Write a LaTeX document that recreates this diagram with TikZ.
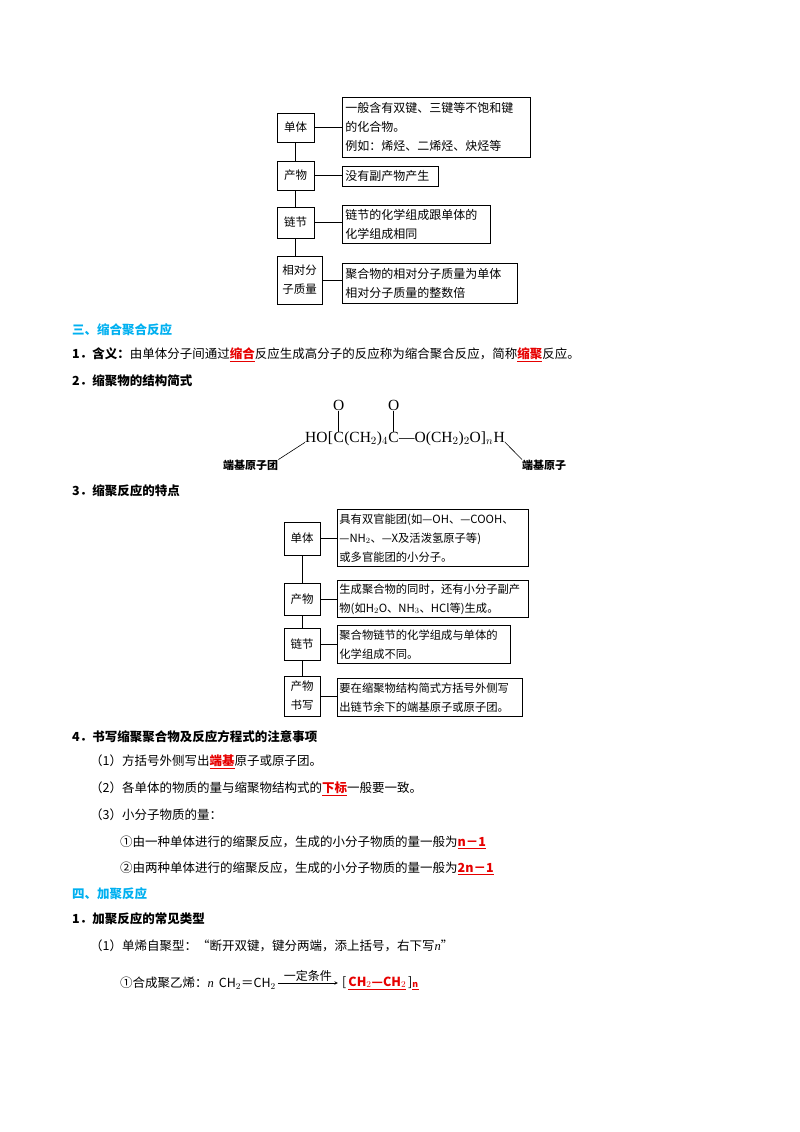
\documentclass[tikz,border=0pt]{standalone}
\usepackage{fontspec}
\setmainfont{Noto Sans CJK SC}
\newfontfamily\serifx{Liberation Serif}
\usetikzlibrary{positioning}
\definecolor{headc}{RGB}{0,176,240}
\definecolor{redc}{RGB}{230,0,0}
\begin{document}
\begin{tikzpicture}[x=1pt,y=-1pt,
  boxl/.style={draw,line width=0.8pt,align=center,font=\fontsize{11.5}{19}\selectfont,inner sep=0},
  boxr/.style={draw,line width=0.8pt,anchor=north west,align=left,font=\fontsize{12}{19}\selectfont,inner xsep=3pt,inner ysep=0},
  boxs/.style={boxr,font=\fontsize{11.3}{19}\selectfont,inner xsep=2pt},
  txt/.style={anchor=west,inner sep=0,font=\fontsize{12.5}{15}\selectfont},
  head/.style={txt,font=\fontsize{12.5}{15}\selectfont\bfseries,text=headc},
  ln/.style={line width=0.6pt},
  fm/.style={inner sep=0,anchor=base west,font=\serifx\fontsize{15.5}{17}\selectfont},
  rb/.style={text=redc,font=\bfseries}]
\useasboundingbox (0,0) rectangle (800,1132);
% ---------- top diagram ----------
\node[boxl,minimum width=37,minimum height=29] (a1) at (295.5,127.5) {单体};
\node[boxl,minimum width=37,minimum height=29] (a2) at (295.5,175.5) {产物};
\node[boxl,minimum width=37,minimum height=31] (a3) at (295.5,222.5) {链节};
\node[boxl,minimum width=45,minimum height=48] (a4) at (299.5,280) {相对分\\子质量};
\draw[ln] (a1.south) -- (a2.north);
\draw[ln] (a2.south) -- (a3.north);
\draw[ln] (a3.south) -- (a3.south |- a4.north);
\node[boxr,minimum width=188,minimum height=60,text width=182] (b1) at (342,97) {一般含有双键、三键等不饱和键\\的化合物。\\例如：烯烃、二烯烃、炔烃等};
\node[boxr,minimum width=96,minimum height=20,text width=90] (b2) at (342,166) {没有副产物产生};
\node[boxr,minimum width=148,minimum height=38,text width=142] (b3) at (342,205) {链节的化学组成跟单体的\\化学组成相同};
\node[boxr,minimum width=175,minimum height=40,text width=169] (b4) at (342,263) {聚合物的相对分子质量为单体\\相对分子质量的整数倍};
\draw[ln] (a1.east) -- (a1.east -| b1.west);
\draw[ln] (a2.east) -- (a2.east -| b2.west);
\draw[ln] (a3.east) -- (a3.east -| b3.west);
\draw[ln] (a4.east) -- (a4.east -| b4.west);
% ---------- texts ----------
\node[head] (h3) at (72,330) {三、缩合聚合反应};
\node[txt] (t1) at (72,355) {\textbf{1．含义：}由单体分子间通过\textcolor{redc}{\textbf{\underline{缩合}}}反应生成高分子的反应称为缩合聚合反应，简称\textcolor{redc}{\textbf{\underline{缩聚}}}反应。};
\node[txt] (t2) at (72,381) {\textbf{2．缩聚物的结构简式}};
% ---------- formula ----------
\node[fm] (f1) at (305,442) {HO};
\node[fm] (f2) at (f1.base east) {[};
\node[fm] (c1) at (f2.base east) {C};
\node[fm] (f3) at (c1.base east) {(CH$_2$)$_4$};
\node[fm] (c2) at (f3.base east) {C};
\node[fm] (f4) at (c2.base east) {—O(CH$_2$)$_2$O]$_n$};
\node[fm] (hh) at (f4.base east) {H};
\node[inner sep=0,font=\serifx\fontsize{15.5}{17}\selectfont] (o1) at ([yshift=26]c1.north) {O};
\node[inner sep=0,font=\serifx\fontsize{15.5}{17}\selectfont] (o2) at ([yshift=26]c2.north) {O};
\draw[ln] (o1.south) -- (c1.north);
\draw[ln] (o2.south) -- (c2.north);
\node[txt,font=\fontsize{11}{13}\selectfont\bfseries] (l1) at (223,465) {端基原子团};
\node[txt,font=\fontsize{11}{13}\selectfont\bfseries] (l2) at (522,465) {端基原子};
\draw[ln] (f1.south west) -- (l1.north east);
\draw[ln] (hh.south east) -- (l2.north west);
\node[txt] (t3) at (72,491) {\textbf{3．缩聚反应的特点}};
% ---------- second diagram ----------
\node[boxl,minimum width=36,minimum height=33] (c1b) at (302,538.5) {单体};
\node[boxl,minimum width=36,minimum height=32] (c2b) at (302,599) {产物};
\node[boxl,minimum width=36,minimum height=32] (c3b) at (302,644) {链节};
\node[boxl,minimum width=36,minimum height=40] (c4b) at (302,696) {产物\\书写};
\draw[ln] (c1b) -- (c2b) -- (c3b) -- (c4b);
\node[boxs,minimum width=191,minimum height=57,text width=187] (d1) at (337,509) {具有双官能团(如—OH、—COOH、\\—NH$_2$、—X及活泼氢原子等)\\或多官能团的小分子。};
\node[boxs,minimum width=191,minimum height=37,text width=187] (d2) at (337,580) {生成聚合物的同时，还有小分子副产\\物(如H$_2$O、NH$_3$、HCl等)生成。};
\node[boxs,minimum width=173,minimum height=38,text width=169] (d3) at (337,625) {聚合物链节的化学组成与单体的\\化学组成不同。};
\node[boxs,minimum width=185,minimum height=38,text width=181] (d4) at (337,678) {要在缩聚物结构简式方括号外侧写\\出链节余下的端基原子或原子团。};
\draw[ln] (c1b.east) -- (c1b.east -| d1.west);
\draw[ln] (c2b.east) -- (c2b.east -| d2.west);
\draw[ln] (c3b.east) -- (c3b.east -| d3.west);
\draw[ln] (c4b.east) -- (c4b.east -| d4.west);
% ---------- more texts ----------
\node[txt] (t4) at (72,737) {\textbf{4．书写缩聚聚合物及反应方程式的注意事项}};
\node[txt] (t5) at (90,762) {（1）方括号外侧写出\textcolor{redc}{\textbf{\underline{端基}}}原子或原子团。};
\node[txt] (t6) at (90,789) {（2）各单体的物质的量与缩聚物结构式的\textcolor{redc}{\textbf{\underline{下标}}}一般要一致。};
\node[txt] (t7) at (90,815) {（3）小分子物质的量：};
\node[txt] (t8) at (120,842) {①由一种单体进行的缩聚反应，生成的小分子物质的量一般为\textcolor{redc}{\textbf{\underline{n－1}}}};
\node[txt] (t9) at (120,868) {②由两种单体进行的缩聚反应，生成的小分子物质的量一般为\textcolor{redc}{\textbf{\underline{2n－1}}}};
\node[head] (h4) at (72,894) {四、加聚反应};
\node[txt] (t10) at (72,919) {\textbf{1．加聚反应的常见类型}};
\node[txt] (t11) at (90,946) {（1）单烯自聚型：“断开双键，键分两端，添上括号，右下写{\serifx\itshape n}”};
% ---------- equation ----------
\node[txt] (e1) at (120,983) {①合成聚乙烯：{\serifx\itshape n}\, CH$_2$＝CH$_2$};
\coordinate (ar1) at ([xshift=2]e1.east);
\coordinate (ar2) at ([xshift=62]e1.east);
\draw[ln,-stealth] (ar1) -- (ar2) node[midway,above=0pt,inner sep=1pt,font=\fontsize{12}{14}\selectfont] {一定条件};
\node[txt] (e2) at ([xshift=4]ar2) {[\,\textcolor{redc}{\textbf{\underline{CH$_2$—CH$_2$}}}\,]\textcolor{redc}{$_{\underline{\mathbf{n}}}$}};
\end{tikzpicture}
\end{document}
